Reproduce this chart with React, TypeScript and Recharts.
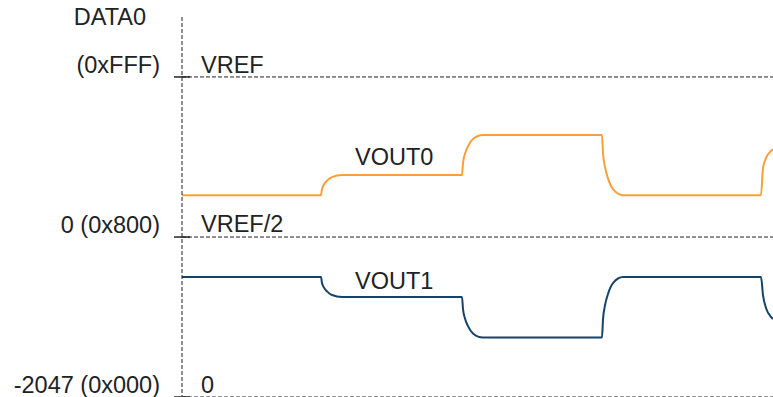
import { LineChart, Line, XAxis, YAxis, ReferenceLine } from 'recharts';

// time axis (arbitrary units), shared by both outputs
const time = [
  0, 139, 140, 142, 145, 150, 160,
  280, 281, 283, 286, 291, 301,
  420, 421, 423, 426, 431, 441,
  579, 581, 584, 590, 591,
];
const vout0 = [
  536, 536, 613, 672, 720, 766, 792,
  792, 946, 1064, 1161, 1254, 1305,
  1305, 1074, 897, 751, 613, 536,
  536, 882, 1010, 1113, 1125,
];
const vout1 = [
  -512, -512, -589, -647, -696, -742, -767,
  -767, -922, -1042, -1140, -1233, -1285,
  -1285, -1053, -875, -728, -589, -512,
  -512, -742, -908, -1036, -1050,
];

const yTicks = [-2047, 0, 2048];
const yTickLabels = ['-2047 (0x000)', '0 (0x800)', '(0xFFF)'];
const refLabels = ['0', 'VREF/2', 'VREF'];
const seriesNames = ['VOUT0', 'VOUT1'];

const FONT = '"Liberation Sans", Arial, sans-serif';
const FS = 23.5;
const TEXT = '#222';
const ORANGE = '#F7A03A';
const NAVY = '#15436C';

const chartData = time.map((t, i) => ({ t, vout0: vout0[i], vout1: vout1[i] }));

function AxisTick(props: any) {
  const { x, y, payload } = props;
  const i = yTicks.indexOf(payload.value);
  return (
    <g>
      <line x1={x - 8} x2={x + 8} y1={y} y2={y} stroke={TEXT} strokeWidth={1.5} />
      <text x={x - 22} y={y - 4} textAnchor="end" fontSize={FS} fontFamily={FONT} fill={TEXT}>
        {yTickLabels[i]}
      </text>
    </g>
  );
}

function refLabel(text: string, dy: number) {
  return (props: any) => {
    const vb = props.viewBox;
    return (
      <text x={vb.x + 19} y={vb.y - dy} fontSize={FS} fontFamily={FONT} fill={TEXT}>
        {text}
      </text>
    );
  };
}

function seriesLabel(text: string, dy: number) {
  return (props: any) => {
    if (props.index !== 6) return null;
    return (
      <text key={text} x={props.x + 13} y={props.y - dy} fontSize={FS} fontFamily={FONT} fill={TEXT}>
        {text}
      </text>
    );
  };
}

export default function App() {
  return (
    <div style={{ position: 'absolute', left: 0, top: 0, width: 773, height: 397, overflow: 'hidden', background: '#fff' }}>
      <LineChart width={773} height={400} data={chartData} margin={{ top: 17, right: 0, bottom: 0, left: 0 }}>
        <XAxis dataKey="t" type="number" domain={[0, 591]} hide />
        <YAxis
          type="number"
          domain={[-2085, 2815]}
          ticks={yTicks}
          width={182}
          tickSize={0}
          tickMargin={0}
          tickLine={false}
          tick={<AxisTick />}
          axisLine={{ stroke: '#222', strokeDasharray: '4 2' }}
          interval={0}
          label={{
            value: 'DATA0',
            content: (p: any) => (
              <text x={p.viewBox.x + p.viewBox.width - 36} y={p.viewBox.y + 8} textAnchor="end" fontSize={FS} fontFamily={FONT} fill={TEXT}>
                DATA0
              </text>
            ),
          }}
        />
        {yTicks.map((v, i) => (
          <ReferenceLine
            key={v}
            y={v}
            stroke="#222"
            strokeDasharray="4 2"
            label={{ value: refLabels[i], content: refLabel(refLabels[i], i === 0 ? 4 : i === 1 ? 5 : 4) }}
          />
        ))}
        <Line
          type="monotone"
          dataKey="vout0"
          stroke={ORANGE}
          strokeWidth={2}
          dot={false}
          isAnimationActive={false}
          label={seriesLabel(seriesNames[0], 10)}
        />
        <Line
          type="monotone"
          dataKey="vout1"
          stroke={NAVY}
          strokeWidth={2}
          dot={false}
          isAnimationActive={false}
          label={seriesLabel(seriesNames[1], 8)}
        />
      </LineChart>
    </div>
  );
}
